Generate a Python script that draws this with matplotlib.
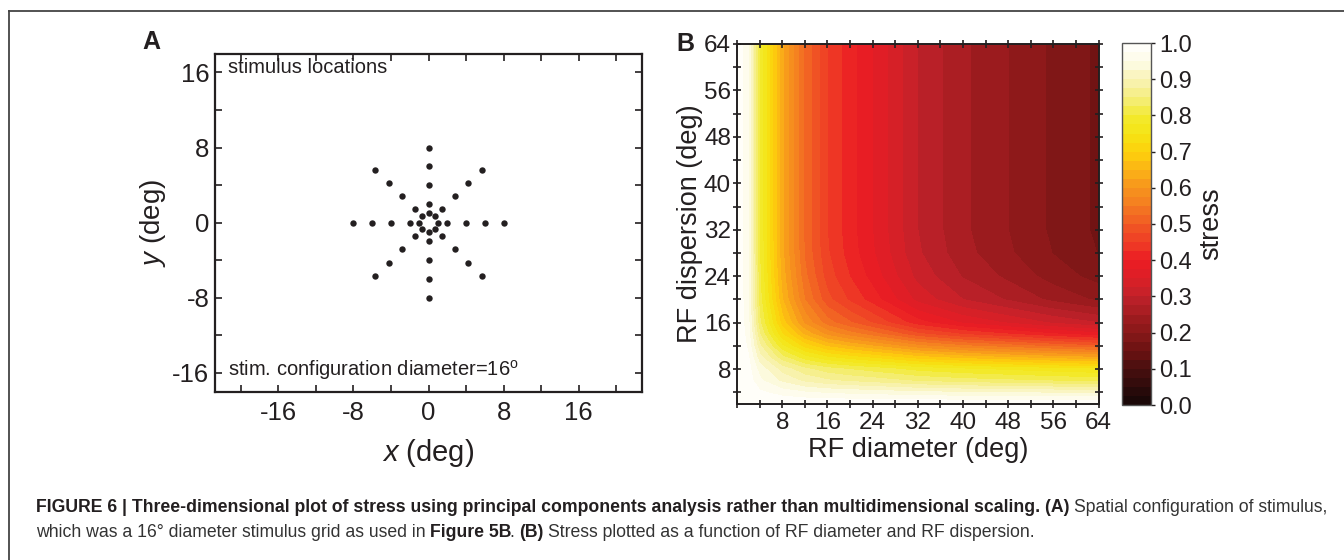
import numpy as np
import matplotlib
matplotlib.use('Agg')
import matplotlib.pyplot as plt
from matplotlib.colors import LinearSegmentedColormap
from matplotlib.ticker import MultipleLocator, FixedLocator, FormatStrFormatter
from matplotlib.lines import Line2D

plt.rcParams['font.family'] = ['Liberation Sans', 'DejaVu Sans']
plt.rcParams['mathtext.fontset'] = 'custom'
plt.rcParams['mathtext.rm'] = 'Liberation Sans'
plt.rcParams['mathtext.it'] = 'Liberation Sans:italic'

W, H = 1344, 560
INK = '#231f20'

# panel A: stimulus grid (polar layout, deg)
stim_radii = [1, 2, 4, 6, 8]
stim_angles = [0, 45, 90, 135, 180, 225, 270, 315]

# panel B: stress
rf_diameter = [0, 2, 4, 8, 12, 16, 20, 24, 32, 40, 48, 56, 64]
rf_dispersion = [2, 4, 6, 8, 10, 12, 14, 16, 20, 24, 28, 32, 64]
stress = [
    [1.00, 1.00, 1.00, 1.00, 1.00, 1.00, 1.00, 1.00, 1.00, 1.00, 1.00, 1.00, 1.00],
    [1.00, 0.995, 0.98, 0.963, 0.952, 0.945, 0.941, 0.938, 0.93, 0.926, 0.923, 0.92, 0.917],
    [1.00, 0.989, 0.956, 0.919, 0.894, 0.879, 0.87, 0.863, 0.846, 0.836, 0.83, 0.823, 0.817],
    [1.00, 0.985, 0.94, 0.889, 0.856, 0.835, 0.823, 0.813, 0.79, 0.777, 0.768, 0.759, 0.751],
    [1.00, 0.978, 0.91, 0.834, 0.784, 0.753, 0.735, 0.719, 0.685, 0.665, 0.651, 0.638, 0.627],
    [1.00, 0.97, 0.88, 0.778, 0.712, 0.67, 0.646, 0.625, 0.58, 0.553, 0.535, 0.517, 0.502],
    [1.00, 0.963, 0.852, 0.726, 0.645, 0.593, 0.563, 0.538, 0.482, 0.449, 0.427, 0.404, 0.386],
    [1.00, 0.958, 0.831, 0.688, 0.595, 0.536, 0.503, 0.473, 0.41, 0.372, 0.347, 0.321, 0.30],
    [1.00, 0.953, 0.812, 0.652, 0.549, 0.483, 0.445, 0.413, 0.342, 0.30, 0.272, 0.243, 0.22],
    [1.00, 0.951, 0.805, 0.639, 0.532, 0.463, 0.424, 0.39, 0.317, 0.273, 0.244, 0.214, 0.19],
    [1.00, 0.95, 0.801, 0.632, 0.522, 0.453, 0.413, 0.378, 0.304, 0.259, 0.229, 0.199, 0.174],
    [1.00, 0.95, 0.80, 0.63, 0.52, 0.45, 0.41, 0.375, 0.30, 0.255, 0.225, 0.195, 0.17],
    [1.00, 0.95, 0.80, 0.63, 0.52, 0.45, 0.41, 0.375, 0.30, 0.255, 0.225, 0.195, 0.17],
]
bar_ticks = [0.0, 0.1, 0.2, 0.3, 0.4, 0.5, 0.6, 0.7, 0.8, 0.9, 1.0]
rf_ticks = [8, 16, 24, 32, 40, 48, 56, 64]

# colour scale, dark red -> red -> orange -> yellow -> white
cmap = LinearSegmentedColormap.from_list('stress', [
    (0.00, '#150707'), (0.05, '#2e0b0b'), (0.10, '#4a0f0f'), (0.15, '#6b1212'),
    (0.20, '#871818'), (0.25, '#a31c21'), (0.30, '#c1222a'), (0.35, '#dd1f26'),
    (0.40, '#ec1c24'), (0.45, '#ee3d25'), (0.50, '#f15a24'), (0.55, '#f47a21'),
    (0.60, '#f7941d'), (0.65, '#fbb316'), (0.70, '#fdd00c'), (0.75, '#f5e414'),
    (0.80, '#f2ea30'), (0.85, '#f5ee80'), (0.90, '#f9f3b5'), (0.95, '#fdfbe6'),
    (1.00, '#ffffff')])

fig = plt.figure(figsize=(W / 100, H / 100), dpi=100)

# outer frame (left and top edges only are visible)
fig.add_artist(Line2D([9 / W, 9 / W], [0, 1 - 11 / H], transform=fig.transFigure, color='#444444', lw=1.3))
fig.add_artist(Line2D([9 / W, 1], [1 - 11 / H, 1 - 11 / H], transform=fig.transFigure, color='#444444', lw=1.3))

# ---- panel A
axA = fig.add_axes([215 / W, 1 - 391.7 / H, 427 / W, 338 / H])
xs, ys = [], []
for r in stim_radii:
    for a in stim_angles:
        xs.append(round(r * np.cos(np.radians(a)), 6))
        ys.append(round(r * np.sin(np.radians(a)), 6))
axA.plot(xs, ys, 'o', ms=4.6, color=INK, mec='none')
axA.set_xlim(-22.75, 22.75)
axA.set_ylim(-18, 18)
for axis in (axA.xaxis, axA.yaxis):
    axis.set_major_locator(MultipleLocator(8))
    axis.set_minor_locator(MultipleLocator(4))
    axis.set_major_formatter(FormatStrFormatter('%d'))
axA.tick_params(which='both', direction='in', top=True, right=True, length=4.8, width=1.2,
                labelsize=18.5, colors=INK)
axA.tick_params(axis='x', pad=7)
axA.tick_params(axis='y', pad=4)
for s in axA.spines.values():
    s.set_linewidth(1.6)
    s.set_color(INK)
axA.set_xlabel('$x$ (deg)', fontsize=21, color=INK, labelpad=8)
axA.set_ylabel('$y$ (deg)', fontsize=20, color=INK, labelpad=3)
axA.text(-21.4, 15.9, 'stimulus locations', fontsize=14.5, color=INK, va='baseline')
axA.text(-21.4, -16.3, r'stim. configuration diameter=16$^{\rm o}$', fontsize=14.5, color=INK, va='baseline')

# ---- panel B
axB = fig.add_axes([737 / W, 1 - 404 / H, 361.7 / W, 360 / H])
cf = axB.contourf(rf_diameter, rf_dispersion, stress, levels=np.linspace(0, 1, 41),
                  cmap=cmap, vmin=0, vmax=1)
axB.set_xlim(0, 64)
axB.set_ylim(2, 64)
for axis in (axB.xaxis, axB.yaxis):
    axis.set_major_locator(FixedLocator(rf_ticks))
    axis.set_minor_locator(MultipleLocator(4))
    axis.set_major_formatter(FormatStrFormatter('%d'))
axB.tick_params(which='both', direction='inout', top=True, right=True, length=5.5, width=1.2,
                labelsize=17.5, colors=INK)
axB.tick_params(axis='x', pad=3)
axB.tick_params(axis='y', pad=1.5)
for s in axB.spines.values():
    s.set_linewidth(1.4)
    s.set_color(INK)
axB.set_xlabel('RF diameter (deg)', fontsize=19.5, color=INK, labelpad=2)
axB.set_ylabel('RF dispersion (deg)', fontsize=19.5, color=INK, labelpad=1)

cax = fig.add_axes([1122.3 / W, 1 - 405 / H, 28.7 / W, 362 / H])
cb = fig.colorbar(cf, cax=cax, ticks=bar_ticks)
cb.ax.set_yticklabels(['%.1f' % v for v in bar_ticks])
cb.ax.tick_params(length=3, width=1, labelsize=17, pad=3, colors=INK)
cb.outline.set_edgecolor('#555555')
cb.outline.set_linewidth(1)
cb.set_label('stress', fontsize=19.5, color=INK, labelpad=4)

fig.text(151.7 / W, 1 - 41.7 / H, 'A', fontsize=18, fontweight='bold', color=INK, ha='center', va='center')
fig.text(685 / W, 1 - 44 / H, 'B', fontsize=18, fontweight='bold', color=INK, ha='center', va='center')

# ---- caption with mixed bold / regular runs
cap_family = ['Liberation Sans Narrow', 'Liberation Sans']
cap_size = 12.7
renderer = fig.canvas.get_renderer()


def text_width(s, bold):
    t = fig.text(0, 0, s, fontsize=cap_size, family=cap_family, fontweight='bold' if bold else 'normal')
    w = t.get_window_extent(renderer=renderer).width
    t.remove()
    return w


gap = text_width('a a', False) - text_width('aa', False)


def write_runs(x_px, y_px, runs):
    # runs: (text, bold, extra space before in px)
    for txt, bold, shift in runs:
        x_px += shift
        t = fig.text(x_px / W, 1 - y_px / H, txt, fontsize=cap_size, family=cap_family,
                     fontweight='bold' if bold else 'normal', color=INK if bold else '#333333',
                     va='baseline')
        x_px += t.get_window_extent(renderer=renderer).width


write_runs(36, 512, [
    ('FIGURE 6 | Three-dimensional plot of stress using principal components analysis rather than '
     'multidimensional scaling. (A)', True, 0),
    ('Spatial configuration of stimulus,', False, gap)])
write_runs(36, 537, [
    ('which was a 16\u00b0 diameter stimulus grid as used in', False, 0),
    ('Figure 5B', True, gap),
    ('.', False, -2.5),
    ('(B)', True, gap),
    ('Stress plotted as a function of RF diameter and RF dispersion.', False, gap)])

fig.savefig('out.png', dpi=100)
